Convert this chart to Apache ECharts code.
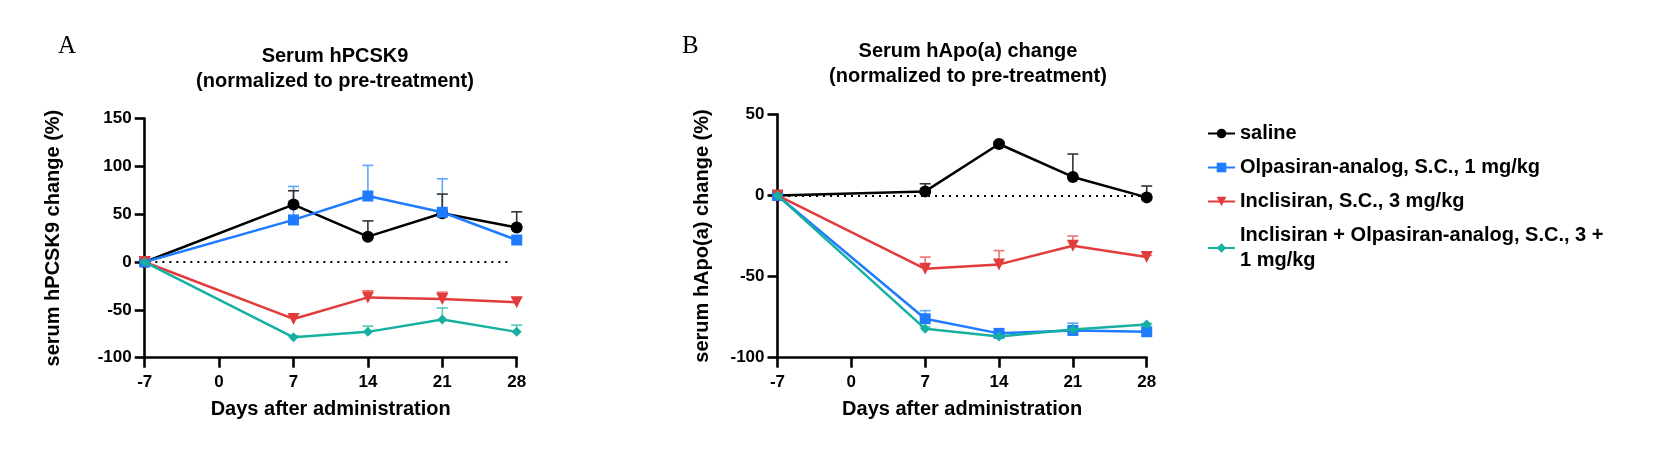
<!DOCTYPE html>
<html>
<head>
<meta charset="utf-8">
<script src="https://cdn.jsdelivr.net/npm/echarts@6/dist/echarts.min.js"></script>
<style>
html,body{margin:0;padding:0;background:#fff;}
#main{width:1656px;height:464px;}
</style>
</head>
<body>
<div id="main"></div>
<script>
// ---- data ----
const days = [-7, 7, 14, 21, 28];
const seriesNames = [
  'saline',
  'Olpasiran-analog, S.C., 1 mg/kg',
  'Inclisiran, S.C., 3 mg/kg',
  'Inclisiran + Olpasiran-analog, S.C., 3 + 1 mg/kg'
];
// Panel A: serum hPCSK9 change (%)
const salineA = [0, 60, 26.5, 51, 36];
const salineA_top = [0, 74.5, 43, 71, 52.5];
const olpA = [0, 44, 69, 52, 23];
const olpA_top = [0, 79, 101, 87, 25];
const incA = [0, -59.5, -37, -38.6, -42];
const incA_top = [0, -57, -30, -31.5, -37.5];
const comboA = [0, -78.7, -73, -60, -73];
const comboA_top = [0, -77, -67, -48, -66];
// Panel B: serum hApo(a) change (%)
const salineB = [0, 2.5, 31.7, 11.4, -1.2];
const salineB_top = [0, 7.2, 33, 25.5, 5.8];
const olpB = [0, -76, -85, -83.2, -84];
const olpB_top = [0, -71, -84, -78.7, -83];
const incB = [0, -45.2, -42.5, -31, -38];
const incB_top = [0, -38, -34, -25, -37];
const comboB = [0, -82.2, -86.9, -82.6, -79.5];
const comboB_top = [0, -81, -86, -82, -79];

const yTicksA = [-100, -50, 0, 50, 100, 150];
const yTicksB = [-100, -50, 0, 50];

// ---- styles ----
const FONT = "'Liberation Sans', Arial, sans-serif";
const colors = ['#000000', '#1f7bff', '#e23b3b', '#16b0a0'];
const errColors = ['#333333', '#5ea6ff', '#ee7373', '#55c9bd'];
const symbols = ['circle', 'rect', 'triangle', 'diamond'];
const symSizes = [12, 11, 12, 10];
const symRot = [0, 0, 180, 0];

function pts(vals) { return days.map((d, i) => [d, vals[i]]); }
function errPts(vals, tops) {
  const out = [];
  days.forEach((d, i) => { if (tops[i] !== vals[i]) out.push([d, vals[i], tops[i]]); });
  return out;
}

function makeErr(idx, gi, vals, tops) {
  const c = errColors[idx];
  return {
    type: 'custom', name: seriesNames[idx] + ' err', xAxisIndex: gi, yAxisIndex: gi,
    z: 1, silent: true,
    data: errPts(vals, tops),
    renderItem: function (params, api) {
      const x = api.value(0), m = api.value(1), t = api.value(2);
      const p0 = api.coord([x, m]);
      const p1 = api.coord([x, t]);
      return {
        type: 'group',
        children: [
          { type: 'line', shape: { x1: p0[0], y1: p0[1], x2: p1[0], y2: p1[1] }, style: { stroke: c, lineWidth: 1.6 } },
          { type: 'line', shape: { x1: p1[0] - 5.5, y1: p1[1], x2: p1[0] + 5.5, y2: p1[1] }, style: { stroke: c, lineWidth: 1.6 } }
        ]
      };
    }
  };
}
function makeLine(idx, gi, vals) {
  return {
    type: 'line', name: seriesNames[idx], xAxisIndex: gi, yAxisIndex: gi,
    data: pts(vals), z: 2 + idx,
    symbol: symbols[idx], symbolSize: symSizes[idx], symbolRotate: symRot[idx],
    showAllSymbol: true,
    lineStyle: { color: colors[idx], width: 2.5 },
    itemStyle: { color: colors[idx] },
    emphasis: { disabled: true },
    animation: false
  };
}

const panels = [
  [salineA, salineA_top, olpA, olpA_top, incA, incA_top, comboA, comboA_top],
  [salineB, salineB_top, olpB, olpB_top, incB, incB_top, comboB, comboB_top]
];

const series = [];
panels.forEach((p, gi) => {
  const order = [3, 2, 1, 0];
  order.forEach(idx => series.push(makeErr(idx, gi, p[idx * 2], p[idx * 2 + 1])));
  order.forEach(idx => series.push(makeLine(idx, gi, p[idx * 2])));
  // dotted zero reference
  series.push({
    type: 'line', name: 'zero' + gi, xAxisIndex: gi, yAxisIndex: gi, data: [],
    markLine: {
      silent: true, symbol: ['none', 'none'], label: { show: false },
      lineStyle: { color: '#000', type: [2, 5], width: 2 },
      data: [[{ coord: [-6, 0] }, { coord: [27.5, 0] }]]
    }
  });
});

const axisCommon = {
  axisLine: { show: true, onZero: false, lineStyle: { color: '#000', width: 2.6 } },
  axisTick: { show: true, length: 10, lineStyle: { color: '#000', width: 2.6 } },
  splitLine: { show: false },
  axisLabel: { color: '#000', fontFamily: FONT, fontWeight: 'bold', fontSize: 17 }
};

function xAx(gi) {
  return Object.assign({}, axisCommon, {
    type: 'value', gridIndex: gi, min: -7, max: 28, interval: 7,
    name: 'Days after administration', nameLocation: 'middle', nameGap: 42,
    nameTextStyle: { color: '#000', fontFamily: FONT, fontWeight: 'bold', fontSize: 20 },
    axisLabel: Object.assign({}, axisCommon.axisLabel, { margin: 16 })
  });
}
function yAx(gi, min, max, name, gap) {
  return Object.assign({}, axisCommon, {
    type: 'value', gridIndex: gi, min: min, max: max, interval: 50,
    name: name, nameLocation: 'middle', nameGap: gap,
    nameTextStyle: { color: '#000', fontFamily: FONT, fontWeight: 'bold', fontSize: 20 },
    axisLabel: Object.assign({}, axisCommon.axisLabel, { margin: 13 })
  });
}

const option = {
  animation: false,
  backgroundColor: '#fff',
  title: [
    { text: 'A', left: 53, top: 29, textStyle: { fontFamily: "'Liberation Serif', 'Times New Roman', serif", fontWeight: 'normal', fontSize: 25, color: '#000' } },
    { text: 'B', left: 677, top: 29, textStyle: { fontFamily: "'Liberation Serif', 'Times New Roman', serif", fontWeight: 'normal', fontSize: 25, color: '#000' } },
    { text: 'Serum hPCSK9\n(normalized to pre-treatment)', left: 330, top: 39, textAlign: 'center',
      textStyle: { fontFamily: FONT, fontWeight: 'bold', fontSize: 20, lineHeight: 25, color: '#000' } },
    { text: 'Serum hApo(a) change\n(normalized to pre-treatment)', left: 963, top: 34, textAlign: 'center',
      textStyle: { fontFamily: FONT, fontWeight: 'bold', fontSize: 20, lineHeight: 25, color: '#000' } }
  ],
  legend: {
    orient: 'vertical', left: 1202, top: 116,
    itemWidth: 27, itemHeight: 12, itemGap: 9,
    data: seriesNames,
    textStyle: { fontFamily: FONT, fontWeight: 'bold', fontSize: 20, lineHeight: 25, color: '#000' },
    formatter: function (name) {
      return name === seriesNames[3] ? 'Inclisiran + Olpasiran-analog, S.C., 3 +\n1 mg/kg' : name;
    },
    selectedMode: false
  },
  grid: [
    { left: 144.7, right: 1656 - 516.7, top: 118.5, bottom: 106.3 },
    { left: 777.5, right: 1656 - 1146.7, top: 114.3, bottom: 106.3 }
  ],
  xAxis: [xAx(0), xAx(1)],
  yAxis: [
    yAx(0, yTicksA[0], yTicksA[yTicksA.length - 1], 'serum hPCSK9 change (%)', 81),
    yAx(1, yTicksB[0], yTicksB[yTicksB.length - 1], 'serum hApo(a) change (%)', 65)
  ],
  series: series
};

const chart = echarts.init(document.getElementById('main'), null, { renderer: 'canvas' });
chart.setOption(option);
</script>
</body>
</html>
